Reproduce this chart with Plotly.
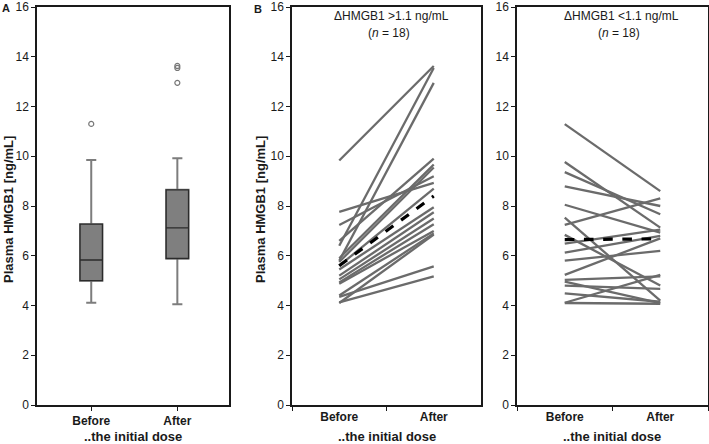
import plotly.graph_objects as go

W, H = 709, 444
ML, MR, MT, MB = 0, 0, 7, 39
PH = H - MT - MB

def px(x):
    return x / W

def py(y):
    return (H - MB - y) / PH

# ---------------- data ----------------
categories = ["Before", "After"]

# Panel A: box statistics
box_q1 = [5.0, 5.89]
box_median = [5.83, 7.12]
box_q3 = [7.27, 8.65]
box_low = [4.11, 4.05]
box_high = [9.85, 9.92]
outlier_x = ["Before", "After", "After", "After"]
outlier_y = [11.3, 12.95, 13.55, 13.63]

# Panel B: ΔHMGB1 > 1.1 ng/mL (n = 18)
b_before = [9.83, 6.4, 5.8, 7.76, 7.24, 6.6, 5.9, 5.75, 5.6,
            5.45, 5.2, 5.05, 4.93, 4.87, 4.4, 4.35, 4.13, 4.1]
b_after = [13.63, 13.55, 12.95, 8.93, 9.2, 9.9, 9.67, 9.55, 8.7,
           7.95, 7.75, 7.5, 7.27, 7.0, 6.9, 5.57, 5.17, 6.85]
b_center = [5.6, 8.4]

# Panel C: ΔHMGB1 < 1.1 ng/mL (n = 18)
c_before = [11.29, 9.77, 9.36, 8.79, 8.05, 7.53, 7.24, 6.84, 6.49,
            6.13, 5.8, 5.23, 5.03, 4.96, 4.8, 4.49, 4.11, 4.1]
c_after = [8.6, 7.13, 7.67, 8.0, 6.93, 4.2, 8.31, 4.8, 7.05,
           6.8, 6.2, 6.7, 5.17, 4.1, 4.67, 4.15, 5.23, 4.07]
c_center = [6.65, 6.68]

y_ticks = [0, 2, 4, 6, 8, 10, 12, 14, 16]

# ---------------- figure ----------------
fig = go.Figure()
FONT = "Arial, Liberation Sans, sans-serif"
LINE_GRAY = "#6b6b6b"

# Panel A boxes: gray whiskers/box, then overlaid box outline + black median
fig.add_trace(go.Box(
    x=categories, q1=box_q1, median=box_median, q3=box_q3,
    lowerfence=box_low, upperfence=box_high,
    width=0.26, whiskerwidth=0.45, boxpoints=False,
    fillcolor="#7f7f7f", line=dict(color="#7d7d7d", width=2),
    xaxis="x", yaxis="y", showlegend=False, hoverinfo="skip"))
fig.add_trace(go.Box(
    x=categories, q1=box_q1, median=box_median, q3=box_q3,
    lowerfence=box_q1, upperfence=box_q3,
    width=0.26, whiskerwidth=0, boxpoints=False,
    fillcolor="#7f7f7f", line=dict(color="#2b2b2b", width=1.3),
    xaxis="x", yaxis="y", showlegend=False, hoverinfo="skip"))
fig.add_trace(go.Scatter(
    x=outlier_x, y=outlier_y, mode="markers",
    marker=dict(symbol="circle-open", size=5, color="#777777", line=dict(width=1.2)),
    xaxis="x", yaxis="y", showlegend=False, hoverinfo="skip"))

# Panel B lines
for b0, b1 in zip(b_before, b_after):
    fig.add_trace(go.Scatter(x=categories, y=[b0, b1], mode="lines",
                             line=dict(color=LINE_GRAY, width=2.3),
                             xaxis="x2", yaxis="y2", showlegend=False, hoverinfo="skip"))
fig.add_trace(go.Scatter(x=categories, y=b_center, mode="lines",
                         line=dict(color="black", width=3.2, dash="dash"),
                         xaxis="x2", yaxis="y2", showlegend=False, hoverinfo="skip"))

# Panel C lines
for c0, c1 in zip(c_before, c_after):
    fig.add_trace(go.Scatter(x=categories, y=[c0, c1], mode="lines",
                             line=dict(color=LINE_GRAY, width=2.3),
                             xaxis="x3", yaxis="y3", showlegend=False, hoverinfo="skip"))
fig.add_trace(go.Scatter(x=categories, y=c_center, mode="lines",
                         line=dict(color="black", width=3.2, dash="dash"),
                         xaxis="x3", yaxis="y3", showlegend=False, hoverinfo="skip"))

axis_common = dict(showline=True, linecolor="#1a1a1a", linewidth=1.5, mirror=True,
                   showgrid=False, zeroline=False, ticks="outside", ticklen=4,
                   tickcolor="#1a1a1a", fixedrange=True, automargin=False)
yax = dict(axis_common, range=[0, 16], tickvals=y_ticks, ticklabeloverflow="allow",
           tickfont=dict(family=FONT, size=12, color="#1a1a1a"))
xtickfont = dict(family=FONT, size=12, color="#1a1a1a", weight="bold")

layout = dict(
    width=W, height=H, margin=dict(l=ML, r=MR, t=MT, b=MB),
    paper_bgcolor="white", plot_bgcolor="white", boxmode="overlay",
    font=dict(family=FONT, color="#1a1a1a"),
    xaxis=dict(axis_common, domain=[px(37), px(229)], type="category",
               categoryorder="array", categoryarray=categories,
               range=[-0.63, 1.6], tickfont=xtickfont, anchor="y"),
    yaxis=dict(yax, anchor="x", domain=[0, 1]),
    xaxis2=dict(axis_common, domain=[px(292), px(481)], type="category",
                categoryorder="array", categoryarray=categories,
                range=[-0.5, 1.5], tickson="boundaries", tickfont=xtickfont, anchor="y2"),
    yaxis2=dict(yax, anchor="x2", domain=[0, 1]),
    xaxis3=dict(axis_common, domain=[px(517), px(708)], type="category",
                categoryorder="array", categoryarray=categories,
                range=[-0.5, 1.5], tickson="boundaries", tickfont=xtickfont, anchor="y3"),
    yaxis3=dict(yax, anchor="x3", domain=[0, 1]),
)
fig.update_layout(**layout)

ann = []
def add_text(text, x, y, size=12, bold=False, angle=0):
    ann.append(dict(text=text, x=px(x), y=py(y), xref="paper", yref="paper",
                    showarrow=False, xanchor="center", yanchor="middle",
                    textangle=angle,
                    font=dict(family=FONT, size=size, color="#1a1a1a",
                              weight="bold" if bold else "normal")))

add_text("A", 6, 8, size=11, bold=True)
add_text("B", 258, 9, size=11, bold=True)
add_text("Plasma HMGB1 [ng/mL]", 8, 210, size=13, bold=True, angle=-90)
add_text("Plasma HMGB1 [ng/mL]", 260, 210, size=13, bold=True, angle=-90)
add_text("..the initial dose", 133, 437, size=13, bold=True)
add_text("..the initial dose", 387, 437, size=13, bold=True)
add_text("..the initial dose", 612, 437, size=13, bold=True)
add_text("ΔHMGB1 >1.1 ng/mL", 391, 16, size=12)
add_text("(<i>n</i> = 18)", 389, 33, size=12)
add_text("ΔHMGB1 <1.1 ng/mL", 621, 16, size=12)
add_text("(<i>n</i> = 18)", 619, 33, size=12)
fig.update_layout(annotations=ann)

fig.write_html("out.html", config={"displayModeBar": False},
               post_script="document.body.style.margin='0';document.body.style.overflow='hidden';")
